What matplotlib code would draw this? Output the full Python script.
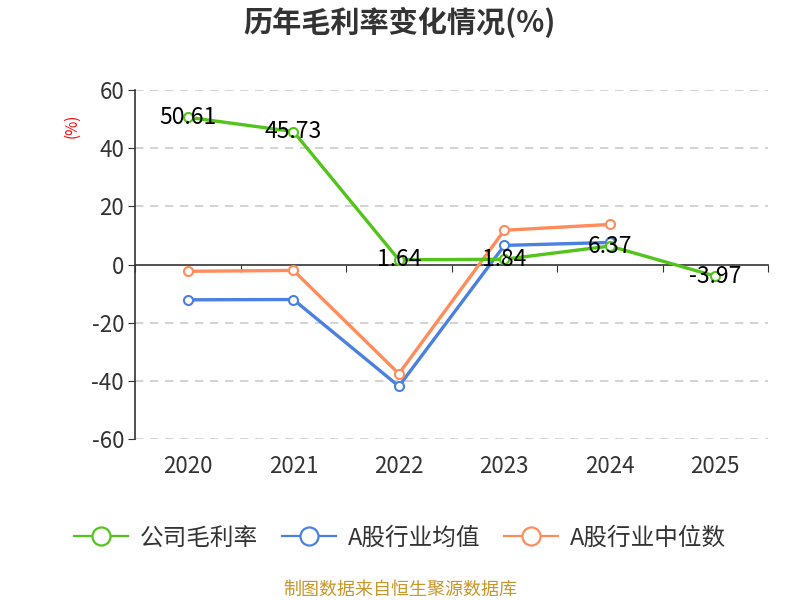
import numpy as np
import matplotlib.pyplot as plt
from matplotlib.lines import Line2D

plt.rcParams['font.family'] = ['Noto Sans CJK SC', 'DejaVu Sans']
plt.rcParams['axes.unicode_minus'] = False

years = ['2020', '2021', '2022', '2023', '2024', '2025']
company = [50.61, 45.73, 1.64, 1.84, 6.37, -3.97]
industry_mean = [-12.1, -12.0, -41.8, 6.6, 7.6]
industry_median = [-2.3, -2.0, -37.5, 11.8, 13.8]
series_names = ['公司毛利率', 'A股行业均值', 'A股行业中位数']

green = '#52c41a'
blue = '#4a80e0'
orange = '#ff8c5a'

fig = plt.figure(figsize=(8, 6), dpi=100)
ax = fig.add_axes([0.169, 0.268, 0.791, 0.582])

x = np.arange(len(years))
xm = np.arange(len(industry_mean))

ax.plot(x, company, color=green, lw=2.4, marker='o', ms=6.5, mfc='white', mec=green, mew=1.5, zorder=4)
ax.plot(xm, industry_mean, color=blue, lw=2.4, marker='o', ms=6.5, mfc='white', mec=blue, mew=1.5, zorder=3)
ax.plot(xm, industry_median, color=orange, lw=2.4, marker='o', ms=6.5, mfc='white', mec=orange, mew=1.5, zorder=3)

for xi, v in zip(x, company):
    ax.text(xi, v, f'{v:.2f}', ha='center', va='center', fontsize=16.5, color='black', zorder=5)

ax.set_xlim(-0.5, len(years) - 0.5)
ax.set_ylim(-60, 60)
ax.set_yticks(np.arange(-60, 61, 20))
for yv in np.arange(-60, 61, 20):
    if yv != 0:
        ax.axhline(yv, color='#cccccc', lw=1.2, ls=(0, (5, 4)), zorder=1)

ax.spines['top'].set_visible(False)
ax.spines['right'].set_visible(False)
ax.spines['left'].set_color('#333333')
ax.spines['bottom'].set_position(('data', 0))
ax.spines['bottom'].set_color('#333333')
ax.spines['bottom'].set_linewidth(1.2)
ax.spines['left'].set_linewidth(1.2)

ax.set_xticks(np.arange(-0.5, len(years), 1.0))
ax.set_xticklabels([])
ax.tick_params(axis='x', length=5, color='#333333', direction='out')
ax.tick_params(axis='y', length=5, color='#333333', labelsize=16, labelcolor='#333333', pad=3)
for xi, lab in zip(x, years):
    ax.text(xi, -0.045, lab, transform=ax.get_xaxis_transform(), ha='center', va='top',
            fontsize=16, color='#333333')

fig.text(0.09, 0.79, '(%)', rotation=90, color='red', fontsize=11, ha='center', va='center')
fig.text(0.5, 0.962, '历年毛利率变化情况(%)', ha='center', va='center', fontsize=21,
         fontweight='bold', color='#333333')

handles = [Line2D([], [], color=c, lw=1.6, marker='o', ms=13, mfc='white', mec=c, mew=1.6)
           for c in (green, blue, orange)]
leg = fig.legend(handles, series_names, loc='center',
                 bbox_to_anchor=(0.5, 0.103), ncol=3, frameon=False, fontsize=17,
                 handlelength=2.3, columnspacing=1.0, handletextpad=0.5)
for t in leg.get_texts():
    t.set_color('#333333')

fig.text(0.5, 0.017, '制图数据来自恒生聚源数据库', ha='center', va='center', fontsize=13, color='#c8962a')

fig.savefig('out.png', dpi=100)
